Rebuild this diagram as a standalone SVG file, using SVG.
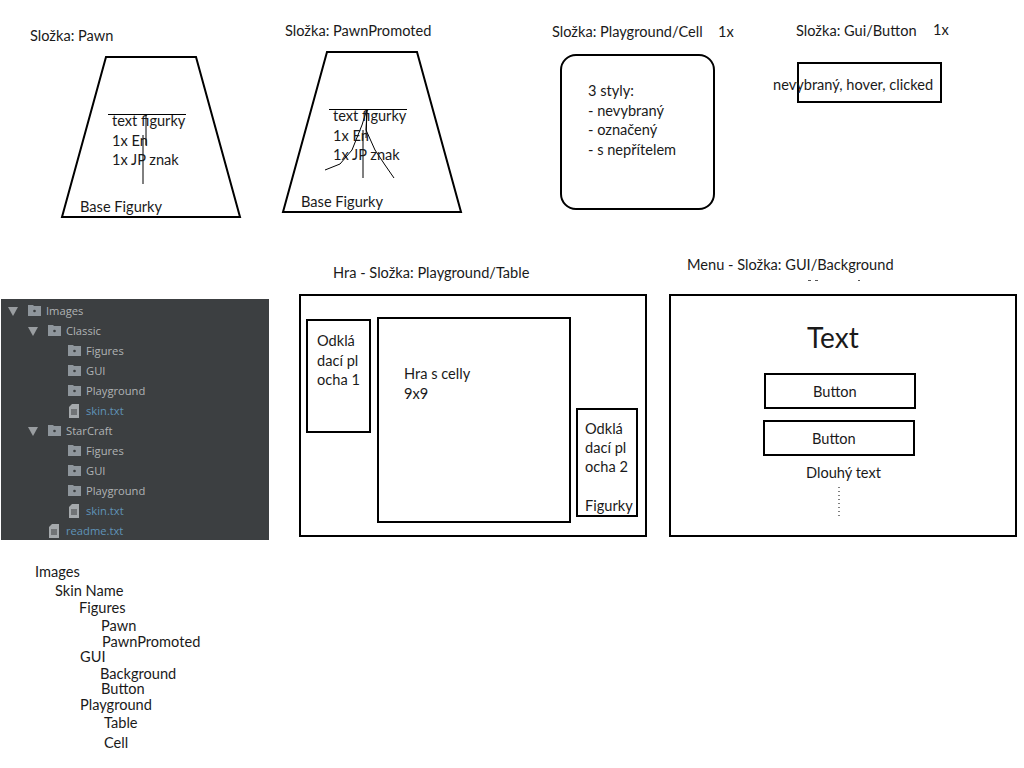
<svg xmlns="http://www.w3.org/2000/svg" xmlns:xlink="http://www.w3.org/1999/xlink" width="1024" height="768" viewBox="0 0 1024 768">
<style>
text{font-family:Lato,"Liberation Sans",sans-serif;font-size:14.6px;fill:#1a1a1a}
.s{fill:#fff;stroke:#000;stroke-width:2}
.o{fill:none;stroke:#000;stroke-width:2}
.l{fill:none;stroke:#000;stroke-width:1}
.t text{font-family:"Open Sans","Liberation Sans",sans-serif;font-size:11.2px;fill:#b0b3b5}
.t text.f{fill:#5f93b8}
</style>
<defs>
<g id="folder"><path d="M0 0h5l1 1h7v10H0z" fill="#8f969c"/><circle cx="6.500" cy="6" r="1.300" fill="#3c3f41"/></g>
<g id="file"><path d="M3 0h7v14H0V3z" fill="#a5a9ac"/><path d="M2 6h6M2 8h6M2 10h6" stroke="#3c3f41" stroke-width="1"/></g>
<path id="arrow" d="M0 0h10l-5 9z" fill="#9a9ea1"/>
</defs>
<rect width="1024" height="768" fill="#fff"/>

<g id="pawn">
<text x="30" y="41">Složka: Pawn</text>
<path class="o" d="M106 57H196L240 217H62Z"/>
<path class="l" d="M108 114.500H186M146 114V145M143 135V184"/>
<text x="112" y="126">text figurky</text><text x="112" y="146">1x En</text><text x="112" y="165">1x JP znak</text>
<text x="80" y="212">Base Figurky</text>
</g>

<g id="pawn-promoted">
<text x="285" y="36">Složka: PawnPromoted</text>
<path class="o" d="M327 52H417L461 212H283Z"/>
<path class="l" d="M329 109.500H407M367 109L366 138M363 130V178M367 109L362 125L352 150L340 164L325 170M367 109L366 130L375 150L385 165L394 178"/>
<text x="333" y="121">text figurky</text><text x="333" y="141">1x En</text><text x="333" y="160">1x JP znak</text>
<text x="301" y="207">Base Figurky</text>
</g>

<g id="cell">
<text x="552" y="37">Složka: Playground/Cell</text><text x="718" y="37">1x</text>
<rect class="o" x="561" y="55" width="153" height="154" rx="15"/>
<text x="588" y="96">3 styly:</text><text x="588" y="116">- nevybraný</text><text x="588" y="135">- označený</text><text x="588" y="155">- s nepřítelem</text>
</g>

<g id="button">
<text x="796" y="36">Složka: Gui/Button</text><text x="933" y="35">1x</text>
<rect class="o" x="798" y="63" width="143" height="39"/>
<text x="773" y="90">nevybraný, hover, clicked</text>
</g>

<g id="tree" class="t">
<rect x="1" y="299" width="268" height="241" fill="#3c3f41"/>
<use xlink:href="#arrow" x="8" y="307"/><use xlink:href="#folder" x="28" y="305"/><text x="46" y="315">Images</text>
<use xlink:href="#arrow" x="28" y="327"/><use xlink:href="#folder" x="48" y="325"/><text x="66" y="335">Classic</text>
<use xlink:href="#folder" x="68" y="345"/><text x="86" y="355">Figures</text>
<use xlink:href="#folder" x="68" y="365"/><text x="86" y="375">GUI</text>
<use xlink:href="#folder" x="68" y="385"/><text x="86" y="395">Playground</text>
<use xlink:href="#file" x="69" y="404"/><text class="f" x="86" y="415">skin.txt</text>
<use xlink:href="#arrow" x="28" y="427"/><use xlink:href="#folder" x="48" y="425"/><text x="66" y="435">StarCraft</text>
<use xlink:href="#folder" x="68" y="445"/><text x="86" y="455">Figures</text>
<use xlink:href="#folder" x="68" y="465"/><text x="86" y="475">GUI</text>
<use xlink:href="#folder" x="68" y="485"/><text x="86" y="495">Playground</text>
<use xlink:href="#file" x="69" y="504"/><text class="f" x="86" y="515">skin.txt</text>
<use xlink:href="#file" x="49" y="524"/><text class="f" x="66" y="535">readme.txt</text>
</g>

<g id="game">
<text x="333" y="278">Hra - Složka: Playground/Table</text>
<rect class="o" x="300" y="295" width="346" height="241"/>
<rect class="o" x="307" y="320" width="63" height="112"/>
<text x="317" y="346">Odklá</text><text x="317" y="366">dací pl</text><text x="317" y="385">ocha 1</text>
<rect class="o" x="378" y="318" width="192" height="204"/>
<text x="404" y="379">Hra s celly</text><text x="404" y="399">9x9</text>
<rect class="o" x="577" y="409" width="60" height="107"/>
<text x="585" y="434">Odklá</text><text x="585" y="453">dací pl</text><text x="585" y="472">ocha 2</text><text x="585" y="511">Figurky</text>
</g>

<g id="menu">
<text x="687" y="270">Menu - Složka: GUI/Background</text>
<path d="M808 280.500h3M815 280.500h3M858 280.500h2" stroke="#555" stroke-width="1"/>
<rect class="o" x="670" y="295" width="346" height="241"/>
<text x="807" y="348" style="font-size:28px">Text</text>
<rect class="o" x="765" y="374" width="150" height="34"/><text x="813" y="397">Button</text>
<rect class="o" x="764" y="421" width="150" height="34"/><text x="812" y="444">Button</text>
<text x="806" y="478">Dlouhý text</text>
<path d="M839 487V518" stroke="#000" stroke-width="1" stroke-dasharray="1 3"/>
</g>

<g id="structure">
<text x="35" y="577">Images</text>
<text x="55" y="596">Skin Name</text>
<text x="79" y="613">Figures</text>
<text x="101" y="631">Pawn</text>
<text x="102" y="647">PawnPromoted</text>
<text x="80" y="662">GUI</text>
<text x="100" y="679">Background</text>
<text x="101" y="694">Button</text>
<text x="80" y="710">Playground</text>
<text x="104" y="728">Table</text>
<text x="104" y="748">Cell</text>
</g>
</svg>
